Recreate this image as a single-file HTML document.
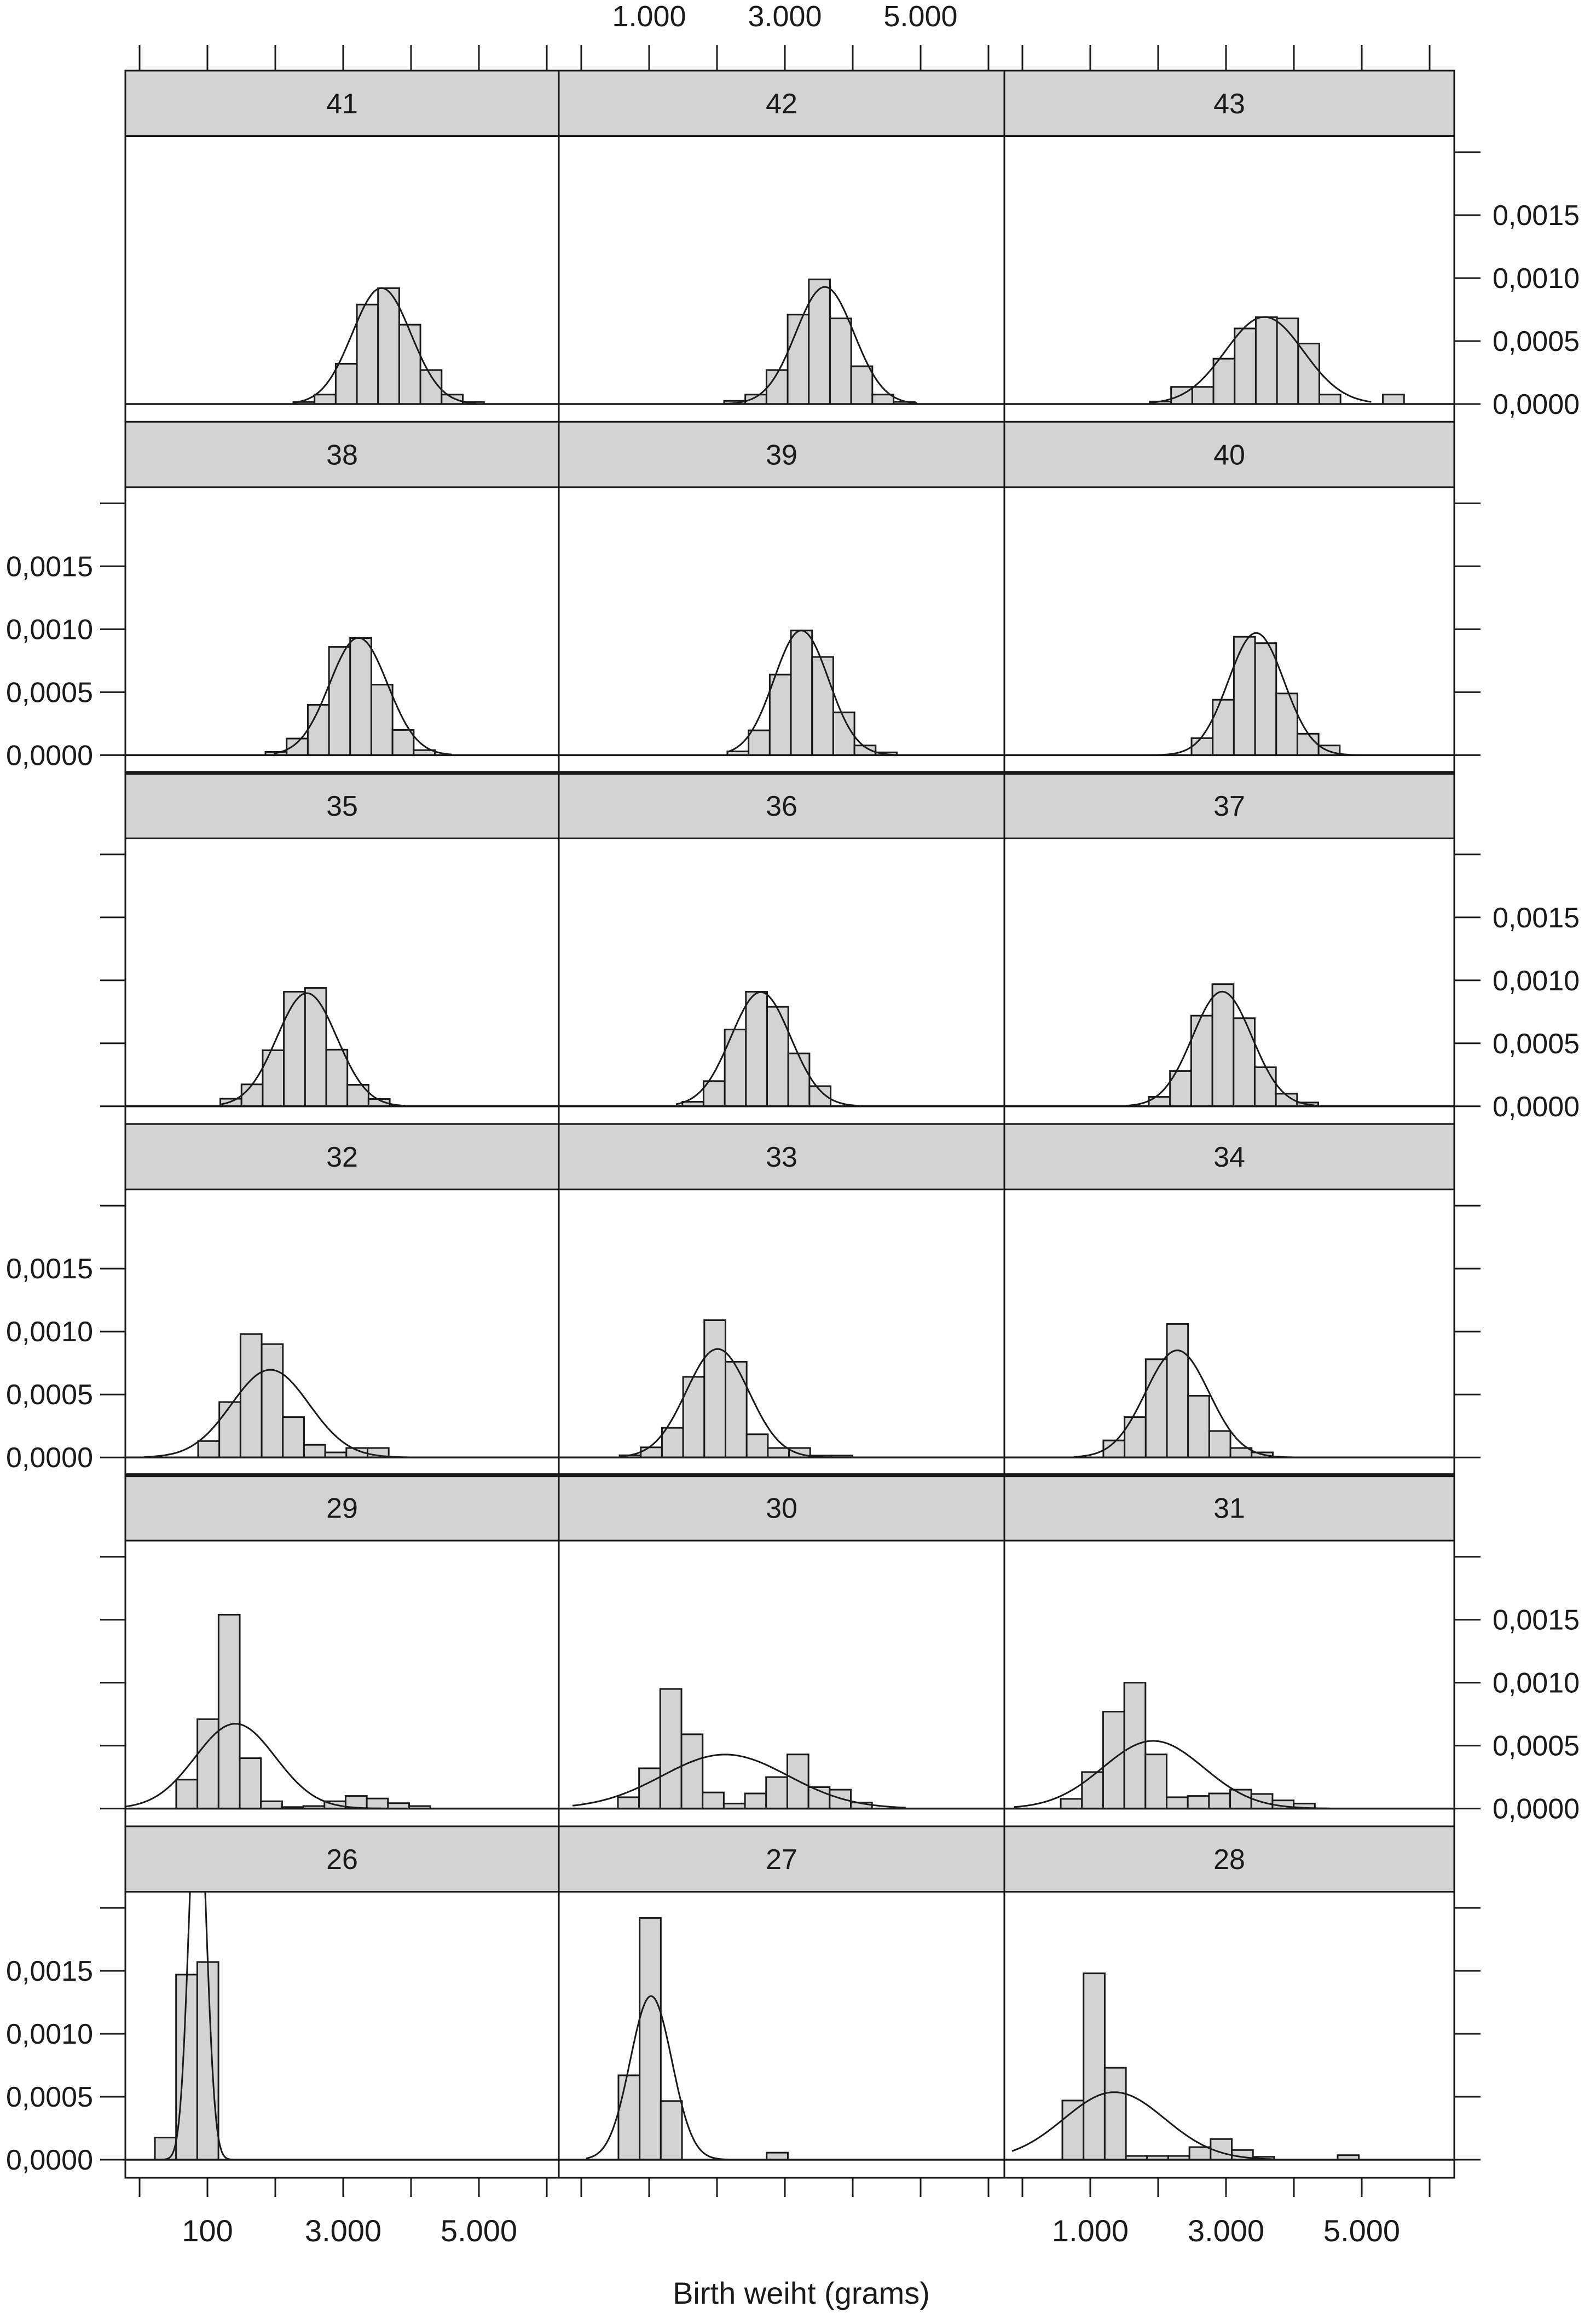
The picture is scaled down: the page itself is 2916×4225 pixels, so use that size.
<!DOCTYPE html>
<html><head><meta charset="utf-8"><title>Birth weight by gestational age</title>
<style>html,body{margin:0;padding:0;background:#fff}svg{display:block}text{font-family:"Liberation Sans",Arial,sans-serif;fill:#1a1a1a}</style>
</head><body>
<svg id="chart" xmlns="http://www.w3.org/2000/svg" width="2916" height="4225" viewBox="0 0 2916 4225">
<rect x="0" y="0" width="2916" height="4225" fill="#fff"/>
<text x="1464" y="4208" font-size="56" text-anchor="middle">Birth weiht (grams)</text>
</svg>
<script>
// ---- data ----
const panelLabels = ['41','42','43','38','39','40','35','36','37','32','33','34','29','30','31','26','27','28'];
const binWidth = 312;
const binStarts = [2266,2105,1879, 1855,2153,2492, 1190,1490,1863, 863,565,1193, 540,540,565, 226,548,589];
const densities = [
 [0.000016,0.000075,0.00032,0.00079,0.00092,0.00063,0.00027,0.000075,0.000016],
 [0.000025,0.000075,0.00027,0.00071,0.00099,0.00068,0.0003,0.000075,0.000017],
 [0.00002,0.000136,0.000136,0.00036,0.0006,0.00069,0.00068,0.00048,0.000075,0,0,0.000075],
 [0.000026,0.000132,0.0004,0.00086,0.00093,0.00056,0.0002,0.00004],
 [0.00003,0.000197,0.00064,0.00099,0.00078,0.00034,0.000077,0.000022],
 [0.000135,0.00044,0.00094,0.00089,0.00049,0.00017,0.000077],
 [0.00006,0.000174,0.000445,0.00091,0.00094,0.00045,0.000171,0.000058],
 [0.000036,0.0002,0.00061,0.00091,0.00079,0.00042,0.00016],
 [0.000075,0.00028,0.00072,0.00097,0.0007,0.00031,0.0001,0.00003],
 [0.00013,0.00044,0.00098,0.0009,0.00032,0.0001,0.00004,0.000075,0.000075],
 [0.000017,0.00008,0.000235,0.00064,0.00109,0.00076,0.000184,0.000075,0.000075,0.000015,0.000015],
 [0.000135,0.00032,0.00078,0.00106,0.00049,0.00021,0.000075,0.00004],
 [0.00023,0.00071,0.00154,0.0004,0.000058,0.000012,0.00002,0.000058,0.0001,0.00008,0.000043,0.00002],
 [0.00009,0.00032,0.00095,0.00059,0.000128,0.00004,0.00012,0.00025,0.00043,0.00017,0.00015,0.000048],
 [0.000077,0.00029,0.00077,0.001,0.00043,0.00009,0.0001,0.00012,0.00015,0.000116,0.000065,0.00004],
 [0.000176,0.00147,0.00157],
 [0.00067,0.00192,0.000466,0,0,0,0,0.000056],
 [0.00047,0.00148,0.00073,0.00003,0.00003,0.00003,0.0001,0.000164,0.000077,0.000023,0,0,0,0.000036]
];
const curveMeans = [3565,3589,3565, 3226,3242,3444, 2465,2645,2944, 1927,2008,2282, 1411,2121,1927, 855,1028,1355];
const curveSds   = [433,429,577, 428,403,411, 444,440,438, 573,463,469, 592,930,742, 128,307,744];
const curveLo    = [2266,2105,1879, 1976,2153,1270, 1190,1395,1532, 65,565,758, -210,-129,-121, 290,73,-153];
const curveHi    = [4960,4950,5140, 4600,4650,5240, 3915,4100,4355, 4637,4379,4403, 4100,4782,4528, 1379,2169,3694];
const xTickValues = [0,1000,2000,3000,4000,5000,6000];
const yTickValues = [0,0.0005,0.001,0.0015,0.002];
const yTickLabels = ['0,0000','0,0005','0,0010','0,0015',''];
const topXLabels = ['1.000','3.000','5.000'];
const bottomLeftXLabels = ['100','3.000','5.000'];
const bottomRightXLabels = ['1.000','3.000','5.000'];
const labeledXValues = [1000,3000,5000];

// ---- layout ----
const NS='http://www.w3.org/2000/svg';
const svg=document.getElementById('chart');
const colLeft=[229,1021,1835], colRight=[1021,1835,2657], colX0=[255,1062,1868];
const pxPerG=0.124;
function rowTop(r){return 129+641.4*r;}
function stripBottom(r){return rowTop(r)+119.5;}
function zeroY(r){return rowTop(r)+609;}
function rowBottom(r){return rowTop(r)+642;}
function xs(col,g){return colX0[col]+g*pxPerG;}
function ys(row,d){return zeroY(row)-d*230000;}
function mk(tag,attrs,parent){const e=document.createElementNS(NS,tag);for(const k in attrs)e.setAttribute(k,attrs[k]);(parent||svg).appendChild(e);return e;}
const ink='#1a1a1a';
const defs=mk('defs',{});

panelLabels.forEach((lab,i)=>{
  const row=Math.floor(i/3), col=i%3;
  const L=colLeft[col], R=colRight[col];
  const g=mk('g',{});
  
  
  const cp=mk('clipPath',{id:'clip'+i},defs);
  mk('rect',{x:L,y:stripBottom(row),width:R-L,height:rowBottom(row)-stripBottom(row)},cp);
  const bg=mk('rect',{x:L,y:stripBottom(row),width:R-L,height:rowBottom(row)-stripBottom(row),fill:'#fff'},g);
  
  
  const bars=mk('g',{'clip-path':'url(#clip'+i+')'},g);
  densities[i].forEach((d,j)=>{
    if(d<=0)return;
    const x1=xs(col,binStarts[i]+j*binWidth), x2=xs(col,binStarts[i]+(j+1)*binWidth);
    const y=ys(row,d);
    const b=mk('rect',{x:x1,y:y,width:x2-x1,height:zeroY(row)-y,fill:'#d3d3d3',stroke:ink,'stroke-width':3},bars);
    
    
  });
  let pts=[];
  const n=120, mu=curveMeans[i], sd=curveSds[i];
  for(let k=0;k<=n;k++){
    const v=curveLo[i]+(curveHi[i]-curveLo[i])*k/n;
    const d=Math.exp(-0.5*Math.pow((v-mu)/sd,2))/(sd*Math.sqrt(2*Math.PI));
    pts.push(xs(col,v).toFixed(1)+','+ys(row,d).toFixed(1));
  }
  const c=mk('polyline',{points:pts.join(' '),fill:'none',stroke:ink,'stroke-width':3,'clip-path':'url(#clip'+i+')'},g);
  
  
  const z=mk('line',{x1:L,x2:R,y1:zeroY(row),y2:zeroY(row),stroke:ink,'stroke-width':3.5},g);
  
  
  const border=mk('rect',{x:L,y:rowTop(row),width:R-L,height:rowBottom(row)-rowTop(row),fill:'none',stroke:ink,'stroke-width':3},g);
  
  
  const st=mk('rect',{x:L,y:rowTop(row),width:R-L,height:119.5,fill:'#d3d3d3',stroke:ink,'stroke-width':3},g);
  
  
  const t=mk('text',{x:(L+R)/2,y:rowTop(row)+78,'font-size':52,'text-anchor':'middle'},g);
  t.textContent=lab;
  
  
});

// thick separators
[2,4].forEach(r=>{
  const l=mk('line',{x1:229,x2:2657,y1:rowTop(r),y2:rowTop(r),stroke:ink,'stroke-width':7});
  
  
});

// x ticks
for(let col=0;col<3;col++){
  xTickValues.forEach(v=>{
    const x=xs(col,v);
    const t1=mk('line',{x1:x,x2:x,y1:82,y2:128,stroke:ink,'stroke-width':3});
    
    
    const t2=mk('line',{x1:x,x2:x,y1:3977,y2:4013,stroke:ink,'stroke-width':3});
    
    
  });
}
labeledXValues.forEach((v,k)=>{
  const a=mk('text',{x:xs(1,v),y:48,'font-size':54,'text-anchor':'middle'});
  a.textContent=topXLabels[k];
  
  
  const b=mk('text',{x:xs(0,v),y:4094,'font-size':56,'text-anchor':'middle'});
  b.textContent=bottomLeftXLabels[k];
  
  
  const c=mk('text',{x:xs(2,v),y:4094,'font-size':56,'text-anchor':'middle'});
  c.textContent=bottomRightXLabels[k];
  
  
});

// y ticks
for(let r=0;r<6;r++){
  yTickValues.forEach((v,k)=>{
    const y=ys(r,v);
    const rt=mk('line',{x1:2657,x2:2705,y1:y,y2:y,stroke:ink,'stroke-width':3});
    
    
    if(r>0){
      const lt=mk('line',{x1:183,x2:229,y1:y,y2:y,stroke:ink,'stroke-width':3});
      
      
    }
    if(!yTickLabels[k])return;
    if(r%2===0){
      const t=mk('text',{x:2727,y:y+18,'font-size':52,'text-anchor':'start'});
      t.textContent=yTickLabels[k];
      
      
    }else{
      const t=mk('text',{x:170,y:y+18,'font-size':52,'text-anchor':'end'});
      t.textContent=yTickLabels[k];
      
      
    }
  });
}
</script>
</body></html>
